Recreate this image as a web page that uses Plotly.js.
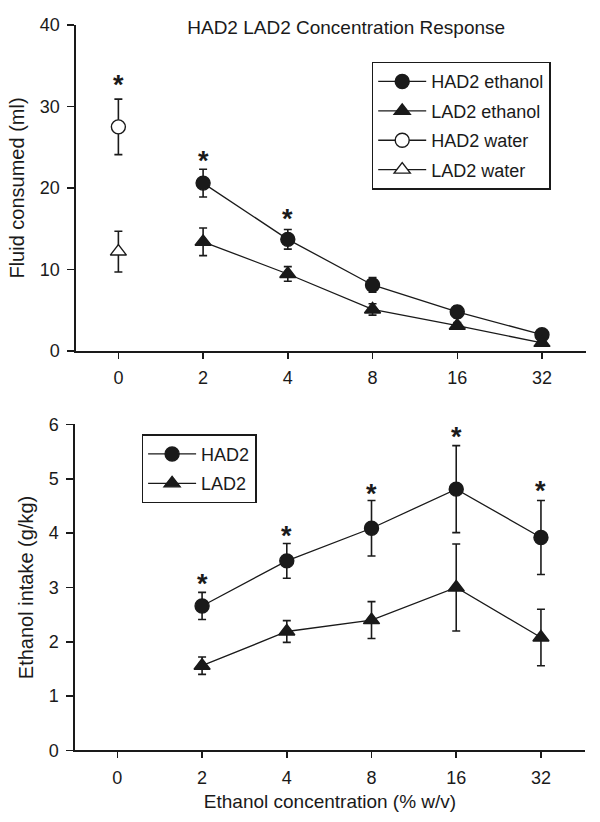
<!DOCTYPE html>
<html>
<head>
<meta charset="utf-8">
<script src="https://cdn.plot.ly/plotly-3.0.1.min.js"></script>
<style>html,body{margin:0;padding:0;background:#fff;}#chart{width:600px;height:822px;}</style>
</head>
<body>
<div id="chart"></div>
<script>
// ---- Data ----
const categories = ['0', '2', '4', '8', '16', '32'];
const ethanolConc = ['2', '4', '8', '16', '32'];
const waterConc = ['0'];

// Top panel: fluid consumed (ml)
const had2Ethanol = [20.6, 13.7, 8.1, 4.8, 2.0];
const had2EthanolErr = [1.7, 1.2, 0.9, 0.7, 0.4];
const lad2Ethanol = [13.4, 9.45, 5.1, 3.1, 1.0];
const lad2EthanolErr = [1.7, 0.9, 0.7, 0.4, 0.3];
const had2Water = [27.5];
const had2WaterErr = [3.4];
const lad2Water = [12.2];
const lad2WaterErr = [2.5];
const topStarX = ['0', '2', '4'];
const topStarY = [33.2, 23.9, 16.8];

// Bottom panel: ethanol intake (g/kg)
const had2Intake = [2.66, 3.49, 4.09, 4.81, 3.92];
const had2IntakeErr = [0.25, 0.32, 0.51, 0.80, 0.68];
const lad2Intake = [1.56, 2.19, 2.40, 3.00, 2.08];
const lad2IntakeErr = [0.16, 0.20, 0.34, 0.80, 0.52];
const bottomStarX = ['2', '4', '8', '16', '32'];
const bottomStarY = [3.15, 4.04, 4.81, 5.86, 4.87];

// ---- Styling ----
const FONT = 'Liberation Sans, Arial, Helvetica, sans-serif';
const INK = '#1a1a1a';
function errBar(vals) {
  return {type: 'data', array: vals, visible: true, color: INK, thickness: 1.6, width: 4};
}
function series(name, x, y, err, symbol, filled, xa, ya, legend) {
  return {
    type: 'scatter', mode: 'lines+markers', name: name, x: x, y: y,
    xaxis: xa, yaxis: ya, legend: legend, legendgroup: name,
    line: {color: INK, width: 1.3},
    marker: {symbol: symbol, size: 14, color: filled ? INK : '#ffffff', line: {color: INK, width: 1.4}},
    error_y: errBar(err),
    cliponaxis: false
  };
}

const traces = [
  series('HAD2 ethanol', ethanolConc, had2Ethanol, had2EthanolErr, 'circle', true, 'x', 'y', 'legend'),
  series('LAD2 ethanol', ethanolConc, lad2Ethanol, lad2EthanolErr, 'triangle-up', true, 'x', 'y', 'legend'),
  series('HAD2 water', waterConc, had2Water, had2WaterErr, 'circle', false, 'x', 'y', 'legend'),
  series('LAD2 water', waterConc, lad2Water, lad2WaterErr, 'triangle-up', false, 'x', 'y', 'legend'),
  series('HAD2', ethanolConc, had2Intake, had2IntakeErr, 'circle', true, 'x2', 'y2', 'legend2'),
  series('LAD2', ethanolConc, lad2Intake, lad2IntakeErr, 'triangle-up', true, 'x2', 'y2', 'legend2')
];

const annotations = [];
function addStars(xs, ys, xref, yref) {
  xs.forEach((xv, i) => {
    annotations.push({
      x: categories.indexOf(xv), y: ys[i], xref: xref, yref: yref, text: '*', showarrow: false,
      font: {family: FONT, size: 27, color: INK, weight: 'bold'},
      xanchor: 'center', yanchor: 'middle', yshift: -5
    });
  });
}
addStars(topStarX, topStarY, 'x', 'y');
addStars(bottomStarX, bottomStarY, 'x2', 'y2');

function xAxis(domain, anchor, title) {
  return {
    domain: domain, anchor: anchor, type: 'category',
    categoryorder: 'array', categoryarray: categories,
    tickvals: categories, ticktext: categories,
    range: [-0.5, 5.52],
    showline: true, linecolor: INK, linewidth: 1.6,
    ticks: 'outside', ticklen: 6, tickwidth: 1.5, tickcolor: INK,
    showgrid: false, zeroline: false,
    tickfont: {family: FONT, size: 18, color: INK},
    ticklabelstandoff: 4,
    title: {text: title, font: {family: FONT, size: 19, color: INK}, standoff: 8}
  };
}
function yAxis(domain, anchor, range, dtick, title) {
  return {
    domain: domain, anchor: anchor, range: range, dtick: dtick, tick0: 0,
    showline: true, linecolor: INK, linewidth: 1.6,
    ticks: 'outside', ticklen: 7, tickwidth: 1.5, tickcolor: INK,
    showgrid: false, zeroline: false,
    tickfont: {family: FONT, size: 18, color: INK},
    ticklabelstandoff: 4,
    title: {text: title, font: {family: FONT, size: 20, color: INK}, standoff: 10}
  };
}

const legendStyle = {
  font: {family: FONT, size: 18, color: INK},
  bgcolor: '#ffffff', bordercolor: INK, borderwidth: 1.5,
  xref: 'paper', yref: 'paper', xanchor: 'left', yanchor: 'top',
  itemclick: false, itemdoubleclick: false, tracegroupgap: 3, itemwidth: 48
};

const layout = {
  width: 600, height: 822,
  margin: {l: 0, r: 0, t: 0, b: 0},
  paper_bgcolor: '#ffffff', plot_bgcolor: '#ffffff',
  font: {family: FONT, color: INK},
  showlegend: true,
  title: {text: 'HAD2 LAD2 Concentration Response', x: 0.577, xref: 'paper', xanchor: 'center',
          y: 0.967, yref: 'paper', yanchor: 'middle', font: {family: FONT, size: 19, color: INK}},
  xaxis: xAxis([0.1267, 0.9767], 'y', ''),
  yaxis: yAxis([0.573, 0.9696], 'x', [0, 40], 10, 'Fluid consumed (ml)'),
  xaxis2: xAxis([0.125, 0.975], 'y2', 'Ethanol concentration (% w/v)'),
  yaxis2: yAxis([0.087, 0.4836], 'x2', [0, 6], 1, 'Ethanol intake (g/kg)'),
  legend: Object.assign({}, legendStyle, {x: 0.6195, y: 0.9249}),
  legend2: Object.assign({}, legendStyle, {x: 0.236, y: 0.4717}),
  annotations: annotations
};

Plotly.newPlot('chart', traces, layout, {staticPlot: true, displayModeBar: false});
</script>
</body>
</html>
